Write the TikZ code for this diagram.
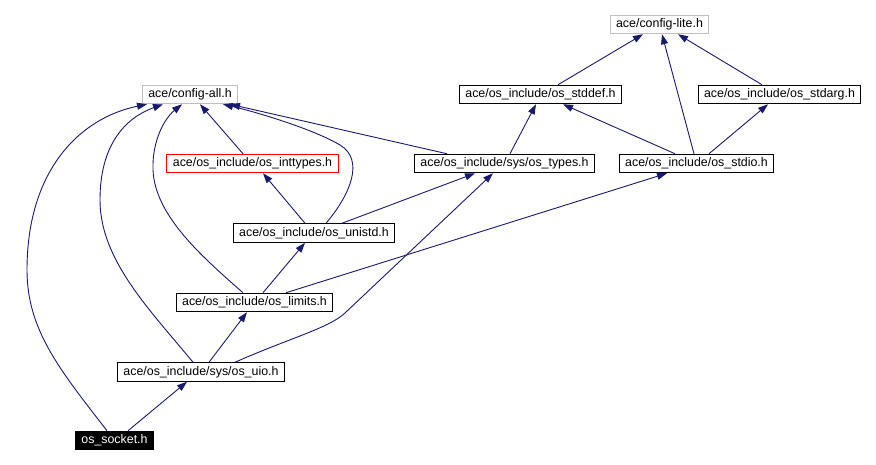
\documentclass[tikz,border=0pt]{standalone}
\usepackage{fontspec}
\setmainfont{Liberation Sans}
\usepackage{tikz}
\usetikzlibrary{arrows.meta, calc}
\usepackage{xcolor}
\definecolor{edgeblue}{RGB}{25,25,112}
\definecolor{greyline}{RGB}{191,191,191}
\definecolor{redline}{RGB}{255,0,0}
\tikzset{
  basebox/.style={
    rectangle, draw=black, line width=1pt, align=center,
    font=\fontsize{12.4}{15}\selectfont, inner xsep=6pt, inner ysep=0pt,
    minimum height=18.5pt
  },
  filebox/.style={basebox, fill=white},
  greybox/.style={basebox, draw=greyline},
  redbox/.style={basebox, draw=redline},
  mainbox/.style={basebox, fill=black, text=white},
  incarrow/.style={-{Triangle[length=10pt,width=7pt]}, line width=0.9pt, color=edgeblue}
}

\begin{document}
\begin{tikzpicture}[x=1pt, y=-1pt]
  \useasboundingbox (0,0) rectangle (876,465);

  % top row
  \node[greybox] (cfglite) at (659.5,24.5) {ace/config-lite.h};
  \node[greybox] (cfgall) at (190,94.5) {ace/config-all.h};
  \node[filebox] (stddef) at (540.5,94.5) {ace/os\_include/os\_stddef.h};
  \node[filebox] (stdarg) at (779.5,94.5) {ace/os\_include/os\_stdarg.h};

  % middle rows
  \node[redbox] (inttypes) at (252.5,163.5) {ace/os\_include/os\_inttypes.h};
  \node[filebox] (ostypes) at (504.5,163.5) {ace/os\_include/sys/os\_types.h};
  \node[filebox] (stdio) at (696.5,163.5) {ace/os\_include/os\_stdio.h};
  \node[filebox] (unistd) at (314,233) {ace/os\_include/os\_unistd.h};
  \node[filebox] (limits) at (254.5,302.5) {ace/os\_include/os\_limits.h};
  \node[filebox] (uio) at (201,372) {ace/os\_include/sys/os\_uio.h};

  % the file itself
  \node[mainbox] (socket) at (114.5,440.5) {os\_socket.h};

  % os_socket.h
  \draw[incarrow] ([xshift=-7.5pt]socket.north) .. controls (60,370) and (27,330) .. (27,270)
        .. controls (27,170) and (80,118) .. ([xshift=-43pt]cfgall.south);
  \draw[incarrow] ([xshift=13.5pt]socket.north) -- ([xshift=-14pt]uio.south);

  % os_uio.h
  \draw[incarrow] ([xshift=-8pt]uio.north) .. controls (150,310) and (100,260) .. (100,200)
        .. controls (100,145) and (125,118) .. ([xshift=-27pt]cfgall.south);
  \draw[incarrow] ([xshift=8pt]uio.north) -- ([xshift=-7.5pt]limits.south);
  \draw[incarrow] ([xshift=34pt]uio.north) .. controls (290,338) and (329,328) .. (345,313)
        -- ([xshift=-11.5pt]ostypes.south);

  % os_limits.h
  \draw[incarrow] ([xshift=-11.5pt]limits.north) .. controls (200,255) and (155,215) .. (153,170)
        .. controls (152,140) and (165,118) .. ([xshift=-8pt]cfgall.south);
  \draw[incarrow] ([xshift=8.5pt]limits.north) -- ([xshift=-9pt]unistd.south);
  \draw[incarrow] ([xshift=31.5pt]limits.north) -- ([xshift=-29.5pt]stdio.south);

  % os_unistd.h
  \draw[incarrow] ([xshift=12pt]unistd.north) .. controls (350,195) and (365,160) .. (340,145)
        .. controls (315,130) and (260,113) .. ([xshift=33pt]cfgall.south);
  \draw[incarrow] ([xshift=-9pt]unistd.north) -- ([xshift=10.5pt]inttypes.south);
  \draw[incarrow] ([xshift=28pt]unistd.north) -- ([xshift=-29.5pt]ostypes.south);

  % second row
  \draw[incarrow] ([xshift=-9.5pt]inttypes.north) -- ([xshift=10pt]cfgall.south);
  \draw[incarrow] ([xshift=-57.5pt]ostypes.north) -- ([xshift=40pt]cfgall.south);
  \draw[incarrow] ([xshift=5.5pt]ostypes.north) -- ([xshift=-4.5pt]stddef.south);
  \draw[incarrow] ([xshift=-21.5pt]stdio.north) -- ([xshift=22.5pt]stddef.south);
  \draw[incarrow] ([xshift=-2.5pt]stdio.north) -- ([xshift=2.5pt]cfglite.south);
  \draw[incarrow] ([xshift=12.5pt]stdio.north) -- ([xshift=-11.5pt]stdarg.south);

  % first row
  \draw[incarrow] ([xshift=17.5pt]stddef.north) -- ([xshift=-16.5pt]cfglite.south);
  \draw[incarrow] ([xshift=-17.5pt]stdarg.north) -- ([xshift=18.5pt]cfglite.south);
\end{tikzpicture}
\end{document}
